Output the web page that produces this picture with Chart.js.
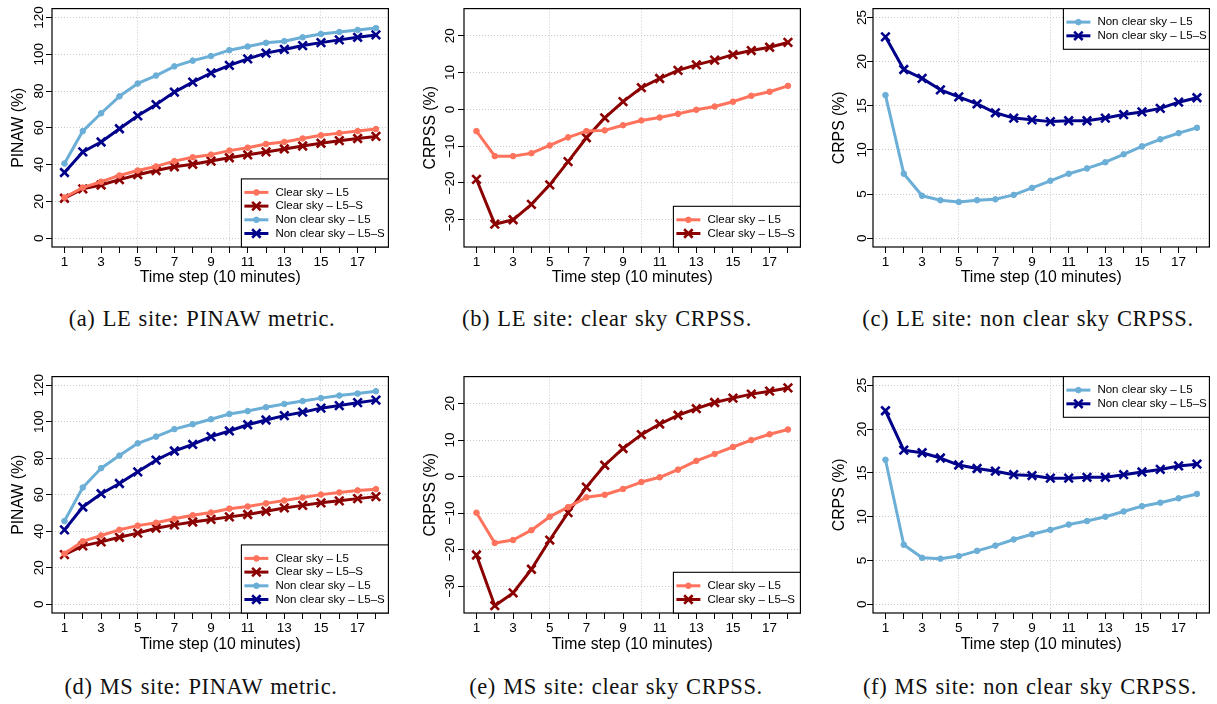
<!DOCTYPE html>
<html>
<head>
  <meta charset="UTF-8">
  <title>PINAW / CRPSS by time step</title>
  <script src="https://cdn.jsdelivr.net/npm/chart.js"></script>
  <style>
    body { margin: 0; background: #fff; }
    #wrap { position: relative; width: 1217px; height: 704px; overflow: hidden; }
    canvas { position: absolute; }
    .cap { position: absolute; font-family: "Liberation Serif", serif; font-size: 22.5px; letter-spacing: 0.6px; word-spacing: 1px;
           color: #111; transform: translate(-50%, -50%); white-space: nowrap; }
  </style>
</head>
<body>
<div id="wrap">
  <canvas id="pa"></canvas>
  <canvas id="pb"></canvas>
  <canvas id="pc"></canvas>
  <canvas id="pd"></canvas>
  <canvas id="pe"></canvas>
  <canvas id="pf"></canvas>
  <div class="cap" style="left:202px;top:319px">(a) LE site: PINAW metric.</div>
  <div class="cap" style="left:607px;top:319px">(b) LE site: clear sky CRPSS.</div>
  <div class="cap" style="left:1028px;top:319px">(c) LE site: non clear sky CRPSS.</div>
  <div class="cap" style="left:201px;top:687px">(d) MS site: PINAW metric.</div>
  <div class="cap" style="left:616px;top:687px">(e) MS site: clear sky CRPSS.</div>
  <div class="cap" style="left:1030px;top:687px">(f) MS site: non clear sky CRPSS.</div>
</div>
<script>
  // time steps (10 minutes) and axis ticks
  const steps = [1, 2, 3, 4, 5, 6, 7, 8, 9, 10, 11, 12, 13, 14, 15, 16, 17, 18];
  const xGridLines = [5, 10, 15];
  const pinawTicks = [0, 20, 40, 60, 80, 100, 120];
  const crpssTicks = [-30, -20, -10, 0, 10, 20];
  const crpsTicks = [0, 5, 10, 15, 20, 25];

  // LE site
  const leClearL5Pinaw = [22.1, 27.5, 30.7, 34.1, 36.8, 39.0, 41.9, 44.0, 45.4, 47.6, 49.2, 51.2, 52.3, 54.2, 55.9, 57.1, 58.2, 59.3];
  const leClearL5SPinaw = [21.7, 26.8, 28.9, 31.8, 34.5, 36.8, 38.8, 40.2, 41.9, 43.7, 45.3, 46.9, 48.5, 50.1, 51.6, 53.0, 54.2, 55.3];
  const leNonClearL5Pinaw = [40.6, 58.2, 67.9, 77.1, 84.1, 88.4, 93.4, 96.5, 99.0, 102.2, 104.2, 106.2, 107.1, 109.2, 111.0, 112.1, 113.2, 114.2];
  const leNonClearL5SPinaw = [35.7, 46.9, 52.3, 59.5, 66.5, 72.6, 79.4, 84.8, 89.8, 93.9, 97.5, 100.6, 102.6, 104.7, 106.3, 107.8, 109.2, 110.5];
  const leClearL5Crpss = [-5.9, -12.7, -12.7, -11.9, -9.8, -7.6, -5.9, -5.7, -4.3, -3.0, -2.2, -1.2, -0.1, 0.8, 2.1, 3.7, 4.8, 6.4];
  const leClearL5SCrpss = [-19.0, -31.2, -30.0, -25.8, -20.5, -14.2, -7.7, -2.3, 2.1, 5.9, 8.4, 10.6, 12.1, 13.4, 14.9, 16.0, 16.9, 18.2];
  const leNonClearL5Crps = [16.2, 7.3, 4.8, 4.3, 4.1, 4.3, 4.4, 4.9, 5.7, 6.5, 7.3, 7.9, 8.6, 9.5, 10.4, 11.2, 11.9, 12.5];
  const leNonClearL5SCrps = [22.8, 19.1, 18.1, 16.8, 16.0, 15.2, 14.2, 13.6, 13.4, 13.2, 13.3, 13.3, 13.6, 14.0, 14.3, 14.7, 15.4, 15.9];

  // MS site
  const msClearL5Pinaw = [27.7, 34.5, 37.7, 40.8, 43.1, 44.7, 46.9, 48.8, 50.3, 52.4, 53.6, 55.3, 56.9, 58.5, 60.1, 61.3, 62.4, 63.1];
  const msClearL5SPinaw = [27.2, 32.0, 34.2, 36.7, 39.0, 41.7, 43.5, 45.1, 46.5, 47.9, 49.2, 51.0, 52.8, 54.2, 55.6, 56.7, 57.9, 59.0];
  const msNonClearL5Pinaw = [45.6, 64.0, 74.6, 81.5, 88.2, 91.9, 96.0, 98.7, 101.4, 104.3, 105.9, 108.0, 109.8, 111.4, 113.0, 114.4, 115.5, 116.8];
  const msNonClearL5SPinaw = [40.8, 53.3, 60.6, 66.2, 72.6, 79.0, 84.0, 87.6, 91.9, 95.0, 98.4, 101.0, 103.4, 105.3, 107.5, 108.9, 110.5, 111.9];
  const msClearL5Crpss = [-9.9, -18.2, -17.4, -14.7, -11.0, -8.4, -5.7, -5.0, -3.4, -1.5, -0.2, 1.9, 4.3, 6.2, 8.1, 10.0, 11.6, 12.9];
  const msClearL5SCrpss = [-21.5, -35.4, -31.9, -25.4, -17.4, -9.9, -2.9, 3.1, 7.7, 11.5, 14.4, 16.8, 18.6, 20.3, 21.5, 22.6, 23.4, 24.3];
  const msNonClearL5Crps = [16.5, 6.8, 5.3, 5.2, 5.5, 6.1, 6.7, 7.4, 8.0, 8.5, 9.1, 9.5, 10.0, 10.6, 11.2, 11.6, 12.1, 12.6];
  const msNonClearL5SCrps = [22.1, 17.6, 17.3, 16.7, 15.9, 15.5, 15.2, 14.8, 14.7, 14.4, 14.4, 14.5, 14.5, 14.8, 15.1, 15.4, 15.8, 16.0];

  const C_SALMON = '#ff725c';
  const C_DARKRED = '#8b0000';
  const C_LIGHTBLUE = '#6baed6';
  const C_NAVY = '#00008b';

  Chart.defaults.font.family = '"Liberation Sans", Arial, sans-serif';
  Chart.defaults.color = '#000';

  // box around the plot + R style legend inside it
  const boxLegend = {
    id: 'boxLegend',
    afterDatasetsDraw(chart, args, opts) {
      const { ctx, chartArea: a } = chart;
      ctx.save();
      ctx.strokeStyle = '#000';
      ctx.lineWidth = 1.2;
      ctx.strokeRect(a.left, a.top, a.right - a.left, a.bottom - a.top);

      const sets = chart.data.datasets;
      const rowH = 13.7;
      const lh = 27 + rowH * (sets.length - 1);
      const lx = a.right - opts.width;
      const ly = opts.corner === 'top' ? a.top : a.bottom - lh;
      ctx.fillStyle = '#fff';
      ctx.fillRect(lx, ly, opts.width, lh);
      ctx.lineWidth = 1.1;
      ctx.strokeRect(lx, ly, opts.width, lh);
      sets.forEach((ds, i) => {
        const y = ly + 13.5 + rowH * i;
        ctx.strokeStyle = ds.borderColor;
        ctx.fillStyle = ds.borderColor;
        ctx.lineWidth = 3;
        ctx.beginPath();
        ctx.moveTo(lx + 3, y);
        ctx.lineTo(lx + 27, y);
        ctx.stroke();
        ctx.lineWidth = ds.pointBorderWidth;
        Chart.helpers.drawPoint(ctx, { pointStyle: ds.pointStyle, radius: ds.pointRadius, borderWidth: ds.pointBorderWidth }, lx + 15, y);
        ctx.fillStyle = '#000';
        ctx.font = '11.5px "Liberation Sans", Arial, sans-serif';
        ctx.textBaseline = 'middle';
        ctx.textAlign = 'left';
        ctx.fillText(ds.label, lx + 34, y);
      });
      ctx.restore();
    }
  };

  function series(label, values, color, cross) {
    return {
      label: label,
      data: values.map((v, i) => ({ x: steps[i], y: v })),
      borderColor: color,
      backgroundColor: color,
      borderWidth: 3,
      borderJoinStyle: 'round',
      borderCapStyle: 'round',
      tension: 0,
      pointStyle: cross ? 'crossRot' : 'circle',
      pointRadius: cross ? 6 : 2.8,
      pointBorderWidth: cross ? 2.6 : 1,
      pointBackgroundColor: color,
      pointBorderColor: color
    };
  }

  function makePanel(id, box, yTicks, yMin, yMax, yTitle, yPad, datasets, legendCorner, legendWidth, xTitlePad) {
    const cv = document.getElementById(id);
    cv.width = 52 + (box.r - box.l) + 8;
    cv.height = 5 + (box.b - box.t) + 45;
    cv.style.left = (box.l - 52) + 'px';
    cv.style.top = (box.t - 5) + 'px';

    new Chart(cv, {
      type: 'line',
      data: { datasets: datasets },
      options: {
        responsive: false,
        animation: false,
        devicePixelRatio: 1,
        layout: { padding: { top: 5, right: 8, left: 0, bottom: 0 } },
        plugins: {
          legend: { display: false },
          tooltip: { enabled: false },
          boxLegend: { corner: legendCorner, width: legendWidth }
        },
        scales: {
          x: {
            type: 'linear',
            min: 0.32,
            max: 18.68,
            afterBuildTicks: s => { s.ticks = steps.map(v => ({ value: v })); },
            afterFit: s => { s.height = 45; },
            ticks: {
              autoSkip: false, maxRotation: 0, padding: 1,
              font: { size: 13.5 },
              callback: v => (v % 2 === 1 ? String(v) : '')
            },
            grid: {
              color: c => (c.tick && xGridLines.includes(c.tick.value) ? '#c8c8c8' : 'rgba(0,0,0,0)'),
              tickColor: '#000', tickLength: 6, tickWidth: 1, lineWidth: 1
            },
            border: { display: false, dash: [1, 2] },
            title: { display: true, text: 'Time step (10 minutes)', font: { size: 15.8 }, padding: { top: 0, bottom: xTitlePad } }
          },
          y: {
            type: 'linear',
            min: yMin,
            max: yMax,
            afterBuildTicks: s => { s.ticks = yTicks.map(v => ({ value: v })); },
            afterFit: s => { s.width = 52; },
            ticks: {
              autoSkip: false, minRotation: 90, maxRotation: 90, crossAlign: 'center', padding: yPad,
              font: { size: 13.5 },
              callback: v => String(v).replace('-', '\u2212')
            },
            grid: { color: '#c8c8c8', tickColor: '#000', tickLength: 6, tickWidth: 1, lineWidth: 1 },
            border: { display: false, dash: [1, 2] },
            title: { display: true, text: yTitle, font: { size: 15.8 }, padding: { top: 9, bottom: 0 } }
          }
        }
      },
      plugins: [boxLegend]
    });
  }

  const L1 = 'Clear sky \u2013 L5', L2 = 'Clear sky \u2013 L5\u2013S';
  const L3 = 'Non clear sky \u2013 L5', L4 = 'Non clear sky \u2013 L5\u2013S';

  makePanel('pa', { l: 52, r: 389, t: 5, b: 247 }, pinawTicks, -4.8, 124.8, 'PINAW (%)', -4.5, [
    series(L1, leClearL5Pinaw, C_SALMON, false),
    series(L2, leClearL5SPinaw, C_DARKRED, true),
    series(L3, leNonClearL5Pinaw, C_LIGHTBLUE, false),
    series(L4, leNonClearL5SPinaw, C_NAVY, true)
  ], 'bottom', 147, 4.5);

  makePanel('pb', { l: 464, r: 801, t: 5, b: 247 }, crpssTicks, -37.4, 27.4, 'CRPSS (%)', -3.5, [
    series(L1, leClearL5Crpss, C_SALMON, false),
    series(L2, leClearL5SCrpss, C_DARKRED, true)
  ], 'bottom', 127, 4.5);

  makePanel('pc', { l: 873, r: 1210, t: 5, b: 247 }, crpsTicks, -1, 26, 'CRPS (%)', -2.5, [
    series(L3, leNonClearL5Crps, C_LIGHTBLUE, false),
    series(L4, leNonClearL5SCrps, C_NAVY, true)
  ], 'top', 146, 4.5);

  makePanel('pd', { l: 52, r: 389, t: 373, b: 613 }, pinawTicks, -4.8, 124.8, 'PINAW (%)', -4.5, [
    series(L1, msClearL5Pinaw, C_SALMON, false),
    series(L2, msClearL5SPinaw, C_DARKRED, true),
    series(L3, msNonClearL5Pinaw, C_LIGHTBLUE, false),
    series(L4, msNonClearL5SPinaw, C_NAVY, true)
  ], 'bottom', 147, 3.5);

  makePanel('pe', { l: 464, r: 801, t: 373, b: 613 }, crpssTicks, -37.4, 27.4, 'CRPSS (%)', -3.5, [
    series(L1, msClearL5Crpss, C_SALMON, false),
    series(L2, msClearL5SCrpss, C_DARKRED, true)
  ], 'bottom', 127, 3.5);

  makePanel('pf', { l: 873, r: 1210, t: 373, b: 613 }, crpsTicks, -1, 26, 'CRPS (%)', -2.5, [
    series(L3, msNonClearL5Crps, C_LIGHTBLUE, false),
    series(L4, msNonClearL5SCrps, C_NAVY, true)
  ], 'top', 146, 3.5);
</script>
</body>
</html>
